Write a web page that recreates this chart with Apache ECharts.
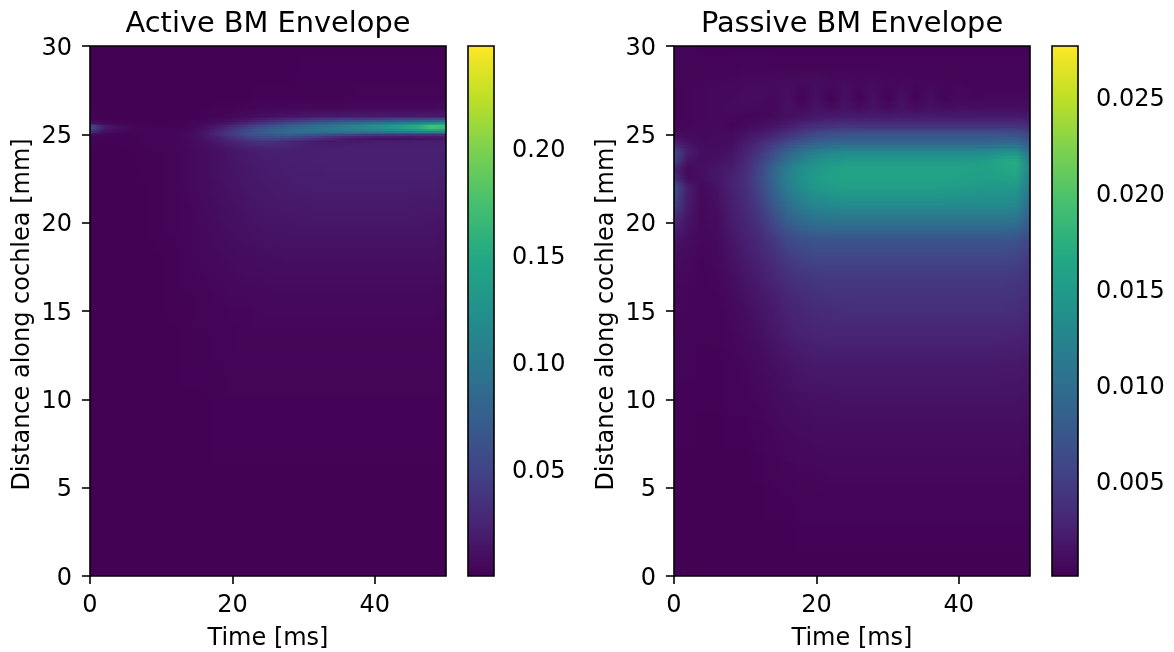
<!DOCTYPE html>
<html><head><meta charset="utf-8">
<style>html,body{margin:0;padding:0;background:#fff}#c{width:1174px;height:652px}</style>
<script src="https://cdn.jsdelivr.net/npm/echarts@6/dist/echarts.min.js"></script>
</head><body><div id="c"></div>
<script>
const times = [0,2,4,6,8,10,12,14,16,18,20,22,24,26,28,30,32,34,36,38,40,42,44,46,48,50];
const activeDepths = [0,5,10,12,14,15,16,17,18,19,20,21,22,23,23.5,24,24.3,24.6,24.8,25,25.2,25.4,25.6,25.8,26,26.5,27,28,30];
// active envelope, units of 0.001, one row per depth (bottom to top)
const activeValues = [
[1,1,1,1,1,1,1,1,1,1,1,1,1,1,1,1,1,1,1,1,1,1,1,1,1,1],
[1,1,1,1,1,1,1,1,1,1,1,1,1,1,1,1,1,1,1,1,1,1,1,1,1,1],
[1,1,1,1,1,1,1,1,1,2,2,2,2,2,2,2,2,2,2,2,2,2,2,2,2,2],
[1,1,1,1,1,1,1,2,2,2,3,3,3,3,3,3,3,3,3,3,3,3,3,3,3,3],
[1,1,1,1,1,1,1,2,2,3,3,4,4,4,4,4,4,4,4,4,4,4,4,4,4,4],
[1,1,1,1,1,1,2,2,3,3,4,4,5,5,5,5,5,5,5,5,5,5,5,5,5,4],
[1,1,1,1,1,1,2,2,3,4,5,5,6,6,6,6,6,6,6,6,6,6,6,6,6,5],
[1,1,1,1,1,1,2,3,4,5,6,7,7,8,8,8,8,8,8,8,8,8,8,8,8,7],
[1,1,1,1,1,1,2,3,5,6,7,8,9,9,10,10,10,10,10,10,10,10,10,10,10,9],
[1,1,1,1,1,2,2,4,5,7,9,10,11,12,12,12,12,12,12,12,12,12,12,12,12,11],
[1,1,1,1,1,2,3,4,6,8,10,12,13,14,14,15,15,15,15,15,15,15,15,15,14,13],
[1,1,1,1,1,2,3,4,7,9,11,13,15,16,17,17,18,18,18,18,18,18,18,17,17,16],
[1,1,1,1,1,2,3,5,7,10,12,15,17,18,19,20,20,20,20,20,20,20,20,20,20,18],
[1,1,1,1,2,2,3,5,8,11,13,16,18,19,20,21,21,22,22,22,22,22,22,22,22,21],
[1,1,1,1,2,2,3,5,8,11,14,17,19,20,21,21,22,22,22,22,22,22,22,22,22,21],
[1,1,1,1,2,2,3,5,8,11,14,17,20,21,21,21,21,22,22,22,22,22,22,22,22,22],
[1,1,1,2,2,3,4,6,9,13,18,23,26,26,24,22,21,22,22,22,22,22,22,22,22,22],
[2,2,2,2,3,3,4,6,11,17,24,32,36,34,28,22,17,15,16,17,18,18,19,20,20,20],
[2,2,2,2,3,3,4,6,12,20,32,44,52,54,50,42,34,26,18,13,10,9,8,9,10,12],
[8,4,2,2,2,3,4,8,15,28,44,60,70,74,76,72,68,62,58,54,50,48,46,44,42,40],
[40,12,6,4,3,2,3,5,12,24,40,56,70,80,88,92,96,98,102,106,110,114,118,122,132,125],
[70,22,10,5,3,2,2,4,9,18,30,44,58,68,78,86,94,102,110,120,128,136,148,164,188,178],
[15,6,3,2,2,1,2,3,6,11,18,28,38,48,58,68,76,84,92,98,104,108,114,124,136,142],
[3,2,1,1,1,1,1,2,3,6,9,14,20,26,32,38,42,46,48,50,52,54,56,58,62,62],
[2,1,1,1,1,1,1,1,2,3,5,7,9,11,13,15,16,17,18,18,18,18,18,18,18,17],
[1,1,1,1,1,1,1,1,1,2,2,3,3,4,4,5,5,5,5,5,5,5,5,5,5,6],
[1,1,1,1,1,1,1,1,1,1,1,1,2,2,2,2,2,2,2,3,3,3,3,3,3,3],
[1,1,1,1,1,1,1,1,1,1,1,1,1,1,1,2,2,2,2,2,2,2,2,2,2,2],
[1,1,1,1,1,1,1,1,1,1,1,1,1,1,1,1,1,1,1,1,1,1,1,1,1,1]
];
const passiveDepths = [0,2,4,6,8,10,12,14,15,16,17,18,19,20,21,22,22.5,23,23.5,24,24.5,25,25.5,26,26.5,27,27.5,28,29,30];
// passive envelope, units of 0.0001, one row per depth (bottom to top)
const passiveValues = [
[1,1,1,1,1,1,1,1,1,1,1,1,1,1,1,1,1,1,1,1,1,1,1,1,1,1],
[1,1,1,1,1,1,1,1,1,2,2,2,2,2,2,2,2,2,2,2,2,2,2,2,2,2],
[1,1,1,1,1,1,1,2,2,3,3,3,3,3,3,3,3,3,3,3,3,3,3,3,3,3],
[1,1,1,1,1,1,2,3,4,5,5,6,6,6,6,6,6,6,6,6,6,6,6,6,6,5],
[2,2,1,1,2,2,3,5,7,8,9,9,9,9,9,9,9,9,9,9,9,9,9,9,9,8],
[2,2,2,2,3,3,5,8,10,12,13,13,14,14,14,14,14,14,14,14,14,14,14,14,14,12],
[3,3,2,2,3,5,8,11,15,18,20,20,20,20,20,20,20,20,20,20,20,20,20,19,19,17],
[4,4,3,3,5,8,12,18,24,27,29,30,30,30,30,30,30,30,30,30,30,30,30,30,29,26],
[5,4,3,3,6,10,15,20,26,30,33,35,36,37,37,37,37,37,37,37,37,37,37,37,36,32],
[5,5,3,4,8,13,18,24,31,36,39,41,41,41,41,41,41,41,41,41,41,41,41,41,40,36],
[6,6,3,5,10,16,22,30,38,43,46,47,47,47,47,47,47,47,47,47,47,47,47,47,45,40],
[10,7,4,6,13,20,27,37,48,54,58,58,58,58,58,58,58,58,58,58,58,58,58,58,56,48],
[15,10,5,8,16,24,32,46,60,68,72,72,72,72,72,72,72,72,72,72,72,72,72,72,70,58],
[30,14,6,9,20,28,40,60,80,92,100,102,102,102,102,102,102,102,102,102,102,102,102,102,100,78],
[55,20,6,11,22,32,48,76,100,116,126,130,132,132,132,132,132,132,132,132,131,131,131,131,130,96],
[72,22,6,14,25,36,56,88,116,134,146,152,155,155,155,155,155,155,155,153,152,150,148,148,148,110],
[40,8,10,17,25,36,58,92,120,138,150,157,160,160,160,160,160,160,160,159,157,155,155,155,158,118],
[28,6,12,17,22,34,56,90,118,136,148,156,160,160,160,160,160,160,160,160,160,158,158,163,168,125],
[55,14,10,12,17,30,50,78,104,122,136,144,149,150,150,150,150,150,150,150,150,150,153,165,170,115],
[65,22,10,10,14,26,42,65,88,105,118,126,129,130,130,130,130,130,130,130,130,130,131,136,140,100],
[25,14,8,8,10,20,32,46,62,76,86,91,92,92,92,92,92,92,92,92,92,92,92,96,96,78],
[8,8,6,8,7,14,20,28,38,50,60,67,69,70,70,70,70,70,70,70,70,70,70,70,68,56],
[4,5,6,7,3,6,10,14,21,28,33,36,38,38,38,38,38,38,38,38,38,38,38,38,37,34],
[3,4,5,7,6,4,5,8,11,14,17,19,20,20,20,20,20,20,20,20,20,20,20,20,20,18],
[3,4,5,7,8,8,6,6,13,7,14,8,14,8,14,8,14,8,12,10,11,11,10,10,10,10],
[3,4,5,6,7,8,9,5,11,2,12,2,12,2,12,2,12,2,11,3,8,5,6,6,6,6],
[3,4,5,6,7,8,9,8,11,4,11,4,11,4,10,4,9,4,8,4,6,4,4,4,4,4],
[4,4,4,5,5,6,6,7,8,8,9,7,8,6,7,5,6,5,5,4,4,3,3,3,3,3],
[3,3,3,3,3,4,4,3,3,3,3,3,3,3,3,3,3,3,3,3,3,3,3,3,3,3],
[3,3,2,2,2,2,2,2,2,2,2,2,2,2,2,2,2,2,2,2,2,2,2,2,2,2]
];
const activeUnit = 0.001, passiveUnit = 0.0001;
const activeRange = [0.0002, 0.2479], passiveRange = [0.00004, 0.0277];
const activeBarTicks = [0.05,0.10,0.15,0.20], passiveBarTicks = [0.005,0.010,0.015,0.020,0.025];
const timeTicks = [0,20,40], depthTicks = [0,5,10,15,20,25,30];
const viridis = ['#440154','#482475','#414487','#355f8d','#2a788e','#21918c','#22a884','#44bf70','#7ad151','#bddf26','#fde725'];

const FONT = 'DejaVu Sans', FS = 24;
const color = (v, r) => echarts.color.lerp(Math.max(0, Math.min(1, (v - r[0]) / (r[1] - r[0]))), viridis);

function cells(depths, values, unit) {
  const out = [];
  for (let j = 0; j < depths.length - 1; j++)
    for (let i = 0; i < times.length - 1; i++)
      out.push([times[i], depths[j], times[i+1], depths[j+1],
        values[j][i]*unit, values[j][i+1]*unit, values[j+1][i]*unit, values[j+1][i+1]*unit]);
  return out;
}
const shade = range => (params, api) => {
  const p0 = api.coord([api.value(0), api.value(1)]), p1 = api.coord([api.value(2), api.value(3)]);
  const x0 = Math.round(p0[0]), x1 = Math.round(p1[0]), yb = p0[1], yt = p1[1];
  const a = api.value(4), b = api.value(5), c = api.value(6), d = api.value(7);
  const n = Math.max(1, Math.round((yb - yt) / 2)), children = [];
  for (let k = 0; k < n; k++) {
    const f = (k + .5) / n, l = a + (c - a) * f, r = b + (d - b) * f;
    const top = Math.round(yb - (yb - yt) * (k + 1) / n), bot = Math.round(yb - (yb - yt) * k / n);
    if (bot <= top) continue;
    children.push({type:'rect', shape:{x:x0, y:top, width:x1-x0, height:bot-top},
      style:{fill:new echarts.graphic.LinearGradient(0,0,1,0,[{offset:0,color:color(l,range)},{offset:1,color:color(r,range)}])}});
  }
  return {type:'group', children};
};
const barItem = (params, api) => {
  const p0 = api.coord([0, api.value(0)]), p1 = api.coord([1, api.value(1)]);
  return {type:'rect', shape:{x:p0[0], y:p1[1], width:p1[0]-p0[0], height:p0[1]-p1[1]},
    style:{fill:new echarts.graphic.LinearGradient(0,1,0,0,viridis.map((c,i)=>({offset:i/(viridis.length-1),color:c})))}};
};

const border = {show:true, borderColor:'#000', borderWidth:1.6, z:5, backgroundColor:'transparent', outerBoundsMode:'none'};
const grids = [
  {left:90, top:46, width:356, height:530, ...border},
  {left:468, top:46, width:26, height:530, ...border},
  {left:674, top:46, width:356, height:530, ...border},
  {left:1052, top:46, width:26, height:530, ...border}
];
const line = {show:false};
const tick = (vals) => ({show:true, length:8, customValues:vals, lineStyle:{color:'#000', width:1.6}});
const richStyle = {t:{color:'#000', fontFamily:FONT, fontSize:FS, padding:[5,0,0,0]}};
const lab = (vals, fmt) => ({show:true, customValues:vals, color:'#000', fontFamily:FONT, fontSize:FS, formatter:fmt, margin:18});
const ylab = (vals, fmt) => ({...lab(vals, v => '{t|' + fmt(v) + '}'), rich:richStyle});
const name = {color:'#000', fontFamily:FONT, fontSize:FS};
const xAxis = [], yAxis = [];
[0,2].forEach(g => {
  xAxis[g] = {type:'value', gridIndex:g, min:0, max:50, name:'Time [ms]', nameLocation:'middle', nameGap:51, nameTextStyle:name,
    axisLine:line, splitLine:{show:false}, axisTick:tick(timeTicks), axisLabel:lab(timeTicks, v=>String(v))};
  yAxis[g] = {type:'value', gridIndex:g, min:0, max:30, name:'Distance along cochlea [mm]', nameLocation:'middle', nameGap:55, nameTextStyle:{...name, padding:[0,7,0,0]},
    axisLine:line, splitLine:{show:false}, axisTick:tick(depthTicks), axisLabel:ylab(depthTicks, v=>String(v))};
});
[[1,activeRange,activeBarTicks,2],[3,passiveRange,passiveBarTicks,3]].forEach(([g,r,t,d]) => {
  xAxis[g] = {type:'value', gridIndex:g, min:0, max:1, show:false};
  yAxis[g] = {type:'value', gridIndex:g, position:'right', min:r[0], max:r[1], axisLine:line, splitLine:{show:false},
    axisTick:tick(t), axisLabel:ylab(t, v=>v.toFixed(d))};
});
const noFx = {animation:false, silent:true, progressive:0, z:1, clip:true};
const chart = echarts.init(document.getElementById('c'), null, {renderer:'canvas'});
chart.setOption({
  animation:false, backgroundColor:'#fff',
  title:[
    {text:'Active BM Envelope', left:263, top:5, textAlign:'center', textStyle:{color:'#000', fontFamily:FONT, fontSize:28.8, fontWeight:'normal'}},
    {text:'Passive BM Envelope', left:847, top:5, textAlign:'center', textStyle:{color:'#000', fontFamily:FONT, fontSize:28.8, fontWeight:'normal'}}
  ],
  grid:grids, xAxis, yAxis,
  series:[
    {type:'custom', name:'Active', xAxisIndex:0, yAxisIndex:0, encode:{x:[0,2], y:[1,3]}, data:cells(activeDepths, activeValues, activeUnit), renderItem:shade(activeRange), ...noFx},
    {type:'custom', name:'Active scale', xAxisIndex:1, yAxisIndex:1, encode:{y:[0,1]}, data:[activeRange], renderItem:barItem, ...noFx},
    {type:'custom', name:'Passive', xAxisIndex:2, yAxisIndex:2, encode:{x:[0,2], y:[1,3]}, data:cells(passiveDepths, passiveValues, passiveUnit), renderItem:shade(passiveRange), ...noFx},
    {type:'custom', name:'Passive scale', xAxisIndex:3, yAxisIndex:3, encode:{y:[0,1]}, data:[passiveRange], renderItem:barItem, ...noFx}
  ]
});
</script></body></html>
